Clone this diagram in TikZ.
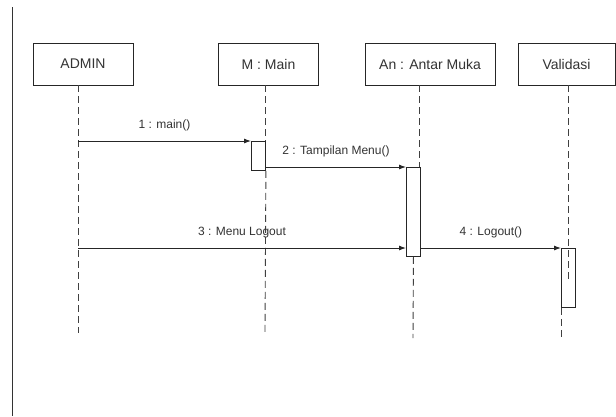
\documentclass[tikz,border=0pt]{standalone}
\usepackage{fontspec}
\setmainfont{Liberation Sans}
\usepackage{tikz}
\usetikzlibrary{arrows.meta, positioning, calc}

\begin{document}
\begin{tikzpicture}[
    x=1pt, y=1pt,
    obj/.style={rectangle, draw=black!85, line width=0.9pt, fill=white,
                minimum height=42pt, inner sep=0pt,
                font=\fontsize{14}{16}\selectfont, text=black!80},
    act/.style={rectangle, draw=black!85, line width=0.9pt, fill=white,
                minimum width=14pt, inner sep=0pt},
    life/.style={draw=black!75, line width=0.9pt, dash pattern=on 7pt off 4pt},
    msg/.style={-{Latex[length=7pt, width=5pt]}, draw=black!85, line width=0.9pt},
    lbl/.style={font=\fontsize{12}{14}\selectfont, text=black!80, inner sep=0pt}
]
\useasboundingbox[fill=white] (0,0) rectangle (616,-416);

% left border
\draw[black!80, line width=1.4pt] (12.5,-7) -- (12.5,-416);

% Objects
\node[obj, minimum width=100pt] (admin)     at (83,-64)    {ADMIN};
\node[obj, minimum width=100pt] (main)      at (268.5,-64) {M : Main};
\node[obj, minimum width=130pt] (antarmuka) at (430,-64)   {An : Antar Muka};
\node[obj, minimum width=97pt]  (validasi)  at (566.5,-64) {Validasi};

% Activation boxes
\node[act, minimum height=29pt, anchor=north west] (act main) at (251,-141) {};
\node[act, minimum height=89pt, anchor=north west] (act an)   at (406,-167) {};
\node[act, minimum height=59pt, anchor=north west] (act val)  at (561,-248) {};

% Lifelines
\draw[life] (admin.south -| 78,0) -- (78,-333);
\draw[life] (main.south -| act main.east) -- (act main.north east);
\draw[life] (act main.south east) -- (265,-333);
\draw[life] (antarmuka.south -| 419,0) -- (419,-167);
\draw[life] (act an.south) -- (413,-338);
\draw[life] (validasi.south -| 568,0) -- (568,-282);
\draw[life] (act val.south west) -- (561,-338);

% Messages
\coordinate (m1) at (78,-141);
\coordinate (m3) at (78,-248);
\draw[msg] (m1) -- node[lbl, above=10pt]{1 : main()} (act main.north west);
\draw[msg] (act main.east |- 0,-167) -- node[lbl, above=10pt]{2 : Tampilan Menu()} (act an.north west);
\draw[msg] (m3) -- node[lbl, above=10pt]{3 : Menu Logout} (m3 -| act an.west);
\draw[msg] (m3 -| act an.east) -- node[lbl, above=10pt]{4 : Logout()} (act val.north west);

\end{tikzpicture}
\end{document}
